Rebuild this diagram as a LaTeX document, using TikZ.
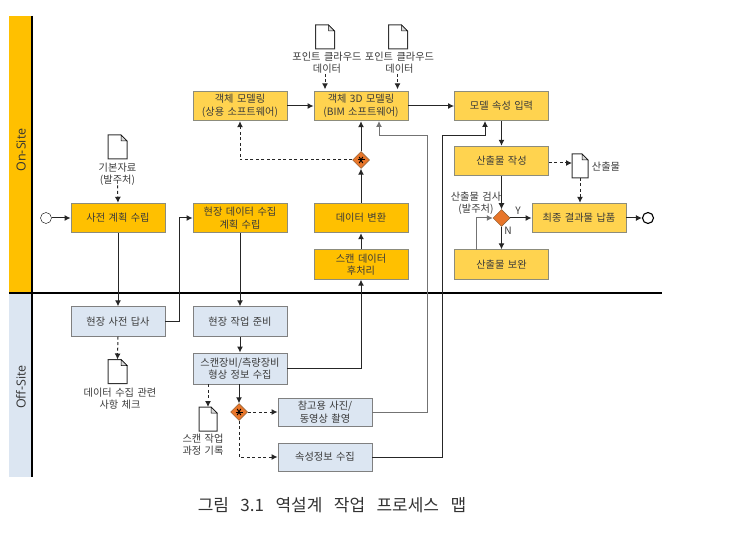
\documentclass[tikz,border=0pt]{standalone}
\usepackage{fontspec}
\setmainfont{Noto Sans CJK KR}[WordSpace=1.5]
\newfontfamily\lanefont{Open Sans}
\newfontfamily\capfont{Noto Sans CJK KR}[WordSpace=3]
\usetikzlibrary{arrows.meta,shapes.geometric}
\definecolor{amberfill}{HTML}{FFC000}
\definecolor{yellowfill}{HTML}{FFD34F}
\definecolor{bluefill}{HTML}{DCE6F2}
\definecolor{boxline}{HTML}{8C8C7C}
\definecolor{gateorange}{HTML}{E8762A}
\definecolor{textgray}{HTML}{3A3A3A}
\tikzset{
  taskbox/.style={rectangle,draw=boxline,line width=0.9pt,minimum width=94pt,minimum height=29.5pt,inner sep=1pt,align=center,text=textgray,font=\fontsize{10.2}{12.5}\selectfont},
  amberbox/.style={taskbox,fill=amberfill},
  yellowbox/.style={taskbox,fill=yellowfill},
  bluebox/.style={taskbox,fill=bluefill,draw=gray},
  tag/.style={align=center,inner sep=0pt,text=textgray,font=\fontsize{10.2}{12}\selectfont},
  flow/.style={line width=1pt,draw=black!85,-{Latex[length=6pt,width=6pt]}},
  grayflow/.style={flow,draw=black!55},
  dashflow/.style={flow,dash pattern=on 3pt off 2.5pt},
  gate/.style={diamond,draw=brown!70!black,fill=gateorange,line width=0.5pt,minimum width=17pt,minimum height=17pt,inner sep=0pt},
  sheet/.style={rectangle,minimum width=#1,minimum height=24pt,inner sep=0pt,outer sep=0pt},
  event/.style={circle,draw=black,fill=white,minimum size=11pt,inner sep=0pt}
}
\newcommand{\docsheet}[4][19pt]{
  \node[sheet=#1] (#2) at (#3,#4) {};
  \draw[line width=1pt,draw=black!80,fill=white] (#2.north west) -- ([xshift=-6pt]#2.north east) -- ([yshift=-6pt]#2.north east) -- (#2.south east) -- (#2.south west) -- cycle;
  \draw[line width=0.5pt,fill=black!15] ([xshift=-6pt]#2.north east) -- ([xshift=-6pt,yshift=-6pt]#2.north east) -- ([yshift=-6pt]#2.north east) -- cycle;
}
\newcommand{\gatestar}[1]{
  \foreach \a in {0,60,120}
    \draw[line width=1pt] ([shift={(\a:3.5)}]#1.center) -- ([shift={(\a+180:3.5)}]#1.center);
}
\begin{document}
\begin{tikzpicture}[x=1pt,y=-1pt]
\useasboundingbox (0,0) rectangle (743,534);
% lanes
\fill[amberfill] (9,16) rectangle (32,293);
\fill[bluefill] (9,293) rectangle (32,477);
\node[rotate=90,font=\lanefont\fontsize{12.5}{12.5}\selectfont,text=black!80] (onsite) at (21,150) {On-Site};
\node[rotate=90,font=\lanefont\fontsize{12.5}{12.5}\selectfont,text=black!80] (offsite) at (21,387) {Off-Site};
\coordinate (lanetop) at (32,16);
\coordinate (lanebot) at (32,477);
\coordinate (splitl) at (9,293);
\coordinate (splitr) at (662,293);
\draw[line width=1.6pt] (lanetop) -- (lanebot);
\draw[line width=2.2pt] (splitl) -- (splitr);
% on-site boxes
\node[amberbox] (plan) at (118,218) {사전 계획 수립};
\node[amberbox] (scanplan) at (240,218) {현장 데이터 수집\\계획 수립};
\node[amberbox] (convert) at (361,218) {데이터 변환};
\node[amberbox] (postproc) at (361,264.5) {스캔 데이터\\후처리};
\node[yellowbox] (objmodel) at (240,106) {객체 모델링\\(상용 소프트웨어)};
\node[yellowbox] (bimmodel) at (361,106) {객체 3D 모델링\\(BIM 소프트웨어)};
\node[yellowbox] (attr) at (501.5,106) {모델 속성 입력};
\node[yellowbox] (output) at (501.5,161) {산출물 작성};
\node[yellowbox] (deliver) at (579,218) {최종 결과물 납품};
\node[yellowbox] (fix) at (501.5,264.5) {산출물 보완};
% off-site boxes
\node[bluebox] (survey) at (118,321.5) {현장 사전 답사};
\node[bluebox] (prepare) at (240,321.5) {현장 작업 준비};
\node[bluebox,minimum height=31pt] (capture) at (240,368.5) {스캔장비/측량장비\\형상 정보 수집};
\node[bluebox,minimum height=28pt] (photo) at (325,412) {참고용 사진/\\동영상 촬영};
\node[bluebox,minimum height=28pt] (property) at (325,457) {속성정보 수집};
% events and gateways
\node[event] (start) at (46,218) {};
\node[event,line width=1.1pt] (end) at (648,218) {};
\node[gate] (gatemodel) at (361,160) {};
\gatestar{gatemodel}
\node[gate] (gatecap) at (239,412) {};
\gatestar{gatecap}
\node[gate] (check) at (501.5,218) {};
% documents
\docsheet{pcdoca}{325}{37}
\docsheet{pcdocb}{398}{37}
\docsheet{basedoc}{117.5}{147}
\docsheet[16pt]{outdoc}{580}{166}
\docsheet{surveydoc}{117.5}{371.5}
\docsheet[18pt]{scandoc}{208}{419}
% texts
\node[tag] (pca) at (327,63) {포인트 클라우드\\데이터};
\node[tag] (pcb) at (399.5,63) {포인트 클라우드\\데이터};
\node[tag] (basetag) at (117.5,174) {기본자료\\(발주처)};
\node[tag] (outtag) at (606,167) {산출물};
\node[tag] (surveytag) at (120,398.5) {데이터 수집 관련\\사항 체크};
\node[tag] (scantag) at (203,445) {스캔 작업\\과정 기록};
\node[tag] (checktag) at (476,203) {산출물 검사\\(발주처)};
\node[tag] (ytag) at (518,211) {Y};
\node[tag] (ntag) at (508,231) {N};
\node[font=\capfont\fontsize{17}{20}\selectfont,text=black!80,inner sep=0pt] (caption) at (332,505) {그림 3.1 역설계 작업 프로세스 맵};
% bend points
\coordinate (bimin) at (379,121);
\coordinate (bimbend) at (427,136);
\coordinate (attrin) at (485,121);
\coordinate (attrbend) at (442,136);
\coordinate (fixout) at (476,249.75);
\coordinate (scanin) at (179,218);
% connectors
\draw[flow] (start) -- (plan);
\foreach \a/\b in {plan/survey,scanplan/prepare,prepare/capture,postproc/convert,convert/gatemodel,gatemodel/bimmodel,objmodel/bimmodel,bimmodel/attr,attr/output,output/check,check/fix,check/deliver,deliver/end}
  \draw[flow] (\a) -- (\b);
\draw[flow] (capture.south -| gatecap) -- (gatecap);
\draw[flow] (survey.east) -| (scanin) -- (scanplan.west);
\draw[flow] (capture.east) -| (postproc.south);
\draw[grayflow] (photo.east) -| (bimbend) -| (bimin);
\draw[flow] (property.east) -| (attrbend) -| (attrin);
\draw[grayflow] (fixout) |- (check.west);
\draw[dashflow] (gatemodel.west) -| (objmodel.south);
\draw[dashflow] (gatecap.east) -- (photo.west);
\draw[dashflow] (gatecap.south) |- (property.west);
\draw[dashflow] (basetag.south) -- (plan.north);
\draw[dashflow] (survey.south) -- (surveydoc.north);
\draw[dashflow] ([xshift=-2pt]pca.south) -- ++(0,15.5);
\draw[dashflow] ([xshift=-2pt]pcb.south) -- ++(0,15.5);
\draw[dashflow] (output.east |- 0,163) -- (outdoc.west |- 0,163);
\draw[dashflow] (outdoc.south) -- (outdoc.south |- deliver.north);
\draw[dashflow] (capture.south -| scandoc) -- (scandoc.north);
\end{tikzpicture}
\end{document}
